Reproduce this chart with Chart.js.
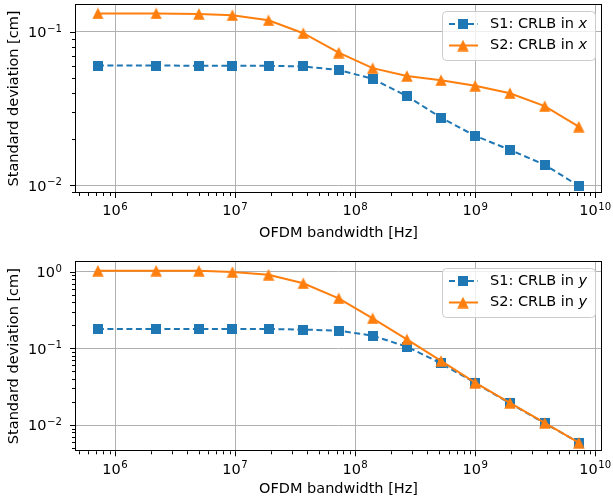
<!DOCTYPE html>
<html>
<head>
<meta charset="utf-8">
<script src="https://cdn.jsdelivr.net/npm/chart.js@4.4.1/dist/chart.umd.min.js"></script>
<style>
  html, body { margin: 0; padding: 0; background: #fff; }
  #wrap { position: relative; width: 613px; height: 500px; }
  .panel { position: absolute; left: 0; width: 613px; height: 250px; }
</style>
</head>
<body>
<div id="wrap">
  <div class="panel" style="top:0"><canvas id="chartX" width="613" height="250"></canvas></div>
  <div class="panel" style="top:250px"><canvas id="chartY" width="613" height="250"></canvas></div>
</div>
<script>
// ========== DATA ==========
const bandwidth = [7.2e5, 2.2e6, 5.0e6, 9.5e6, 1.9e7, 3.7e7, 7.3e7, 1.4e8, 2.7e8, 5.2e8, 1.0e9, 1.95e9, 3.8e9, 7.3e9];

const s1CrlbX = [0.0603, 0.0603, 0.0602, 0.0602, 0.0601, 0.0595, 0.0565, 0.0494, 0.0381, 0.0276, 0.0210, 0.0170, 0.0136, 0.0099];
const s2CrlbX = [0.132, 0.132, 0.131, 0.1285, 0.119, 0.098, 0.0733, 0.058, 0.0516, 0.0484, 0.0445, 0.0398, 0.0328, 0.0241];

const s1CrlbY = [0.179, 0.179, 0.179, 0.179, 0.179, 0.176, 0.170, 0.1465, 0.105, 0.0638, 0.0354, 0.0192, 0.01055, 0.0059];
const s2CrlbY = [1.03, 1.03, 1.03, 0.99, 0.914, 0.706, 0.45, 0.247, 0.131, 0.0685, 0.0357, 0.0194, 0.01064, 0.0059];

// major ticks with their labels as base + exponent
const xMajor = [1e6, 1e7, 1e8, 1e9, 1e10];
const xTickExp = ["6", "7", "8", "9", "10"];
const yMajor = [0.01, 0.1, 1];
const yTickExp = ["\u22122", "\u22121", "0"];

const legendNames = ["S1: CRLB in ", "S2: CRLB in "];

const xLimits = [4.64e5, 1.14e10];
const yLimitsX = [0.0089, 0.152];
const yLimitsY = [0.00454, 1.38];

// ========== STYLE ==========
const BLUE = "#1f77b4";
const ORANGE = "#ff7f0e";
const FONT = "DejaVu Sans";
const FS = 14.5;

Chart.defaults.font.family = FONT;
Chart.defaults.font.size = FS;
Chart.defaults.color = "#000";

function squareMarker(color) {
    const c = document.createElement("canvas");
    c.width = 10; c.height = 10;
    const g = c.getContext("2d");
    g.fillStyle = color;
    g.fillRect(0, 0, 10, 10);
    return c;
}

function triangleMarker(color) {
    const c = document.createElement("canvas");
    c.width = 12; c.height = 12;
    const g = c.getContext("2d");
    g.fillStyle = color;
    g.beginPath();
    g.moveTo(6, 0.3);
    g.lineTo(11.7, 11.7);
    g.lineTo(0.3, 11.7);
    g.closePath();
    g.fill();
    return c;
}

const sqBlue = squareMarker(BLUE);
const triOrange = triangleMarker(ORANGE);

const majorIndex = (v, majors) => majors.findIndex(m => Math.abs(m - v) / m < 1e-9);

function logTicks(min, max) {
    const out = [];
    for (let e = Math.floor(Math.log10(min)); e <= Math.ceil(Math.log10(max)); e++) {
        for (let m = 1; m <= 9; m++) {
            const v = +(m * Math.pow(10, e)).toPrecision(12);
            if (v >= min && v <= max) out.push({ value: v });
        }
    }
    return out;
}

function logScale(limits, majors, fit, title) {
    return {
        type: "logarithmic",
        min: limits[0],
        max: limits[1],
        afterBuildTicks: s => { s.ticks = logTicks(limits[0], limits[1]); },
        afterFit: s => {
            fit(s);
            s.paddingLeft = 0; s.paddingRight = 0; s.paddingTop = 0; s.paddingBottom = 0;
        },
        ticks: { display: false, autoSkip: false },
        grid: {
            drawTicks: false,
            lineWidth: 1,
            color: ctx => (ctx.tick && majorIndex(ctx.tick.value, majors) >= 0) ? "#b0b0b0" : "rgba(0,0,0,0)"
        },
        border: { display: false },
        title: title
    };
}

// draws "10" with a raised, smaller exponent (mathtext look)
function powLabel(ctx, exp, x, baseline, align) {
    const big = `${FS}px ${FONT}`, small = `${FS * 0.7}px ${FONT}`;
    ctx.font = big;
    const wb = ctx.measureText("10").width;
    ctx.font = small;
    const we = ctx.measureText(exp).width;
    const total = wb + we + 0.5;
    let left = align === "right" ? x - total : x - total / 2;
    ctx.font = big;
    ctx.fillText("10", left, baseline);
    ctx.font = small;
    ctx.fillText(exp, left + wb + 0.5, baseline - FS * 0.36);
}

// frame, tick marks and tick labels drawn like matplotlib
const axesDecor = {
    id: "axesDecor",
    afterDraw(chart) {
        const { ctx, chartArea: a, scales } = chart;
        ctx.save();
        ctx.strokeStyle = "#000";
        ctx.lineWidth = 1;
        ctx.beginPath();
        scales.x.ticks.forEach(t => {
            const px = Math.round(scales.x.getPixelForValue(t.value)) + 0.5;
            const len = majorIndex(t.value, xMajor) >= 0 ? 5 : 3;
            ctx.moveTo(px, a.bottom);
            ctx.lineTo(px, a.bottom + len);
        });
        scales.y.ticks.forEach(t => {
            const py = Math.round(scales.y.getPixelForValue(t.value)) + 0.5;
            const len = majorIndex(t.value, yMajor) >= 0 ? 5 : 3;
            ctx.moveTo(a.left, py);
            ctx.lineTo(a.left - len, py);
        });
        ctx.stroke();
        ctx.strokeRect(Math.round(a.left) + 0.5, Math.round(a.top) + 0.5,
            Math.round(a.right - a.left) - 1, Math.round(a.bottom - a.top) - 1);

        ctx.fillStyle = "#000";
        ctx.textBaseline = "alphabetic";
        ctx.textAlign = "left";
        scales.x.ticks.forEach(t => {
            const i = majorIndex(t.value, xMajor);
            if (i < 0) return;
            powLabel(ctx, xTickExp[i], scales.x.getPixelForValue(t.value), a.bottom + 22.3, "center");
        });
        scales.y.ticks.forEach(t => {
            const i = majorIndex(t.value, yMajor);
            if (i < 0) return;
            powLabel(ctx, yTickExp[i], a.left - 13, scales.y.getPixelForValue(t.value) + FS * 0.365, "right");
        });
        ctx.restore();
    }
};

// matplotlib-like legend with italic axis symbol
const mplLegend = {
    id: "mplLegend",
    afterDraw(chart, args, opts) {
        const { ctx, chartArea: a } = chart;
        const w = 153, h = 49;
        const x0 = a.right - 7 - w, y0 = a.top + 7;
        ctx.save();
        ctx.beginPath();
        ctx.roundRect(x0 + 0.5, y0 + 0.5, w, h, 4);
        ctx.fillStyle = "rgba(255,255,255,0.8)";
        ctx.fill();
        ctx.strokeStyle = "#cccccc";
        ctx.lineWidth = 1;
        ctx.stroke();

        chart.data.datasets.forEach((ds, i) => {
            const ry = y0 + 13 + i * 21.5;
            ctx.beginPath();
            ctx.strokeStyle = ds.borderColor;
            ctx.lineWidth = 2;
            ctx.setLineDash(ds.borderDash || []);
            ctx.moveTo(x0 + 7, ry);
            ctx.lineTo(x0 + 36, ry);
            ctx.stroke();
            ctx.setLineDash([]);
            const img = ds.pointStyle;
            ctx.drawImage(img, x0 + 21 - img.width / 2, ry - img.height / 2);

            ctx.fillStyle = "#000";
            ctx.textBaseline = "middle";
            ctx.font = `${FS}px ${FONT}`;
            const tx = x0 + 48;
            ctx.fillText(opts.names[i], tx, ry);
            const tw = ctx.measureText(opts.names[i]).width;
            ctx.font = `italic ${FS}px ${FONT}`;
            ctx.fillText(opts.symbol, tx + tw, ry);
        });
        ctx.restore();
    }
};

function makeChart(id, s1, s2, yLimits, symbol, padTop, xHeight, xTitlePad) {
    return new Chart(document.getElementById(id).getContext("2d"), {
        type: "line",
        data: {
            datasets: [
                {
                    data: s1,
                    borderColor: BLUE,
                    backgroundColor: BLUE,
                    borderWidth: 2,
                    borderDash: [6, 3.5],
                    pointStyle: sqBlue,
                    pointRadius: 5,
                    order: 1
                },
                {
                    data: s2,
                    borderColor: ORANGE,
                    backgroundColor: ORANGE,
                    borderWidth: 2,
                    pointStyle: triOrange,
                    pointRadius: 6,
                    order: 0
                }
            ]
        },
        options: {
            responsive: false,
            animation: false,
            parsing: false,
            layout: { autoPadding: false, padding: { left: 0, right: 11, top: padTop, bottom: 0 } },
            plugins: {
                legend: { display: false },
                tooltip: { enabled: false },
                mplLegend: { names: legendNames, symbol: symbol }
            },
            scales: {
                x: logScale(xLimits, xMajor, s => { s.height = xHeight; },
                    { display: true, text: "OFDM bandwidth [Hz]", padding: { top: 0, bottom: xTitlePad } }),
                y: logScale(yLimits, yMajor, s => { s.width = 75; },
                    { display: true, text: "Standard deviation [cm]", padding: { top: 5.5, bottom: 0 } })
            }
        },
        plugins: [axesDecor, mplLegend]
    });
}

// point objects built from the arrays
function pts(ys) { return bandwidth.map((x, i) => ({ x: x, y: ys[i] })); }

makeChart("chartX", pts(s1CrlbX), pts(s2CrlbX), yLimitsX, "x", 4, 57, 8);
makeChart("chartY", pts(s1CrlbY), pts(s2CrlbY), yLimitsY, "y", 11, 48.7, 2);
</script>
</body>
</html>
